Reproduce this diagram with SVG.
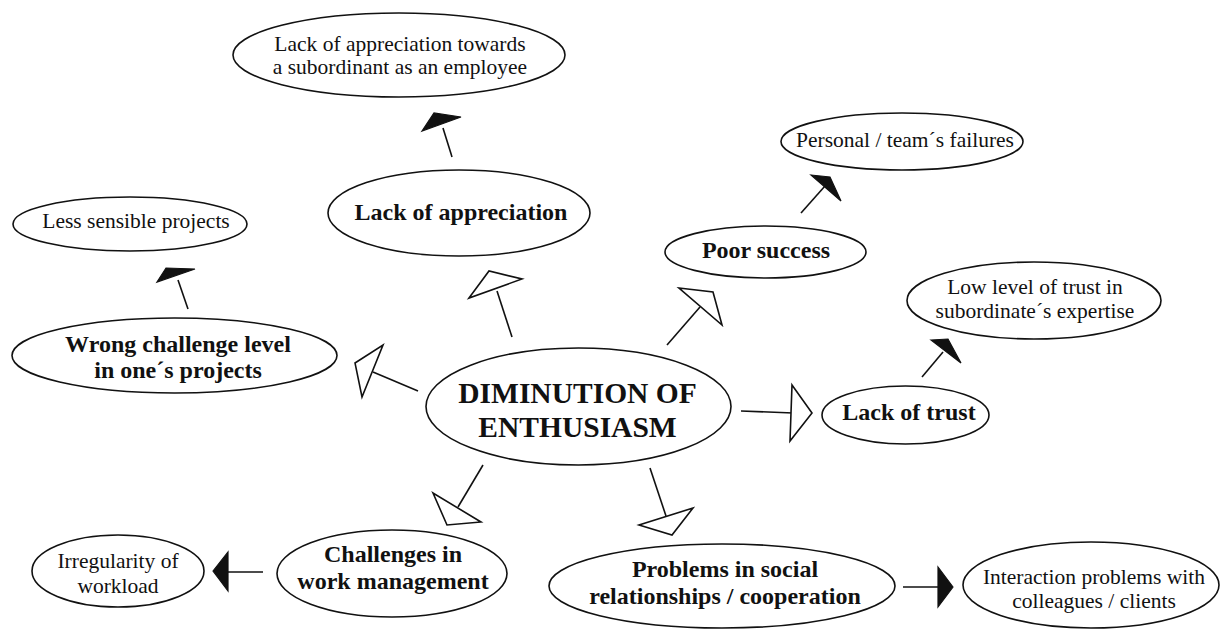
<svg xmlns="http://www.w3.org/2000/svg" width="1220" height="629" viewBox="0 0 1220 629">
<style>
.n ellipse{fill:#fff;stroke:#111;stroke-width:1.6}
text{font-family:"Liberation Serif","Times New Roman",Tinos,"DejaVu Serif",serif;fill:#111;text-anchor:middle}
.r{font-size:21.5px}
.b{font-size:24px;font-weight:bold}
.c{font-size:29.5px;font-weight:bold}
.e line{stroke:#111;stroke-width:1.6}
.e .o{fill:#fff;stroke:#111;stroke-width:1.6;stroke-linejoin:miter}
.e .f{fill:#111;stroke:#111;stroke-width:1.2;stroke-linejoin:miter}
</style>
<rect width="1220" height="629" fill="#fff"/>
<g id="connectors" class="e">
<line x1="512" y1="337" x2="497" y2="291"/>
<polygon class="o" points="469,298 489,271 522,279"/>
<line x1="418" y1="391" x2="373" y2="372"/>
<polygon class="o" points="355,363 383,345 362,397"/>
<line x1="483" y1="465" x2="458" y2="507"/>
<polygon class="o" points="433,493 447,525 481,522"/>
<line x1="650" y1="468" x2="666" y2="516"/>
<polygon class="o" points="639,525 672,535 693,508"/>
<line x1="667" y1="345" x2="700" y2="307"/>
<polygon class="o" points="679,288 713,292 722,325"/>
<line x1="741" y1="411" x2="793" y2="413"/>
<polygon class="o" points="792,385 812,413 790,441"/>
<line x1="452" y1="157" x2="443" y2="128"/>
<polygon class="f" points="422,131 434,113 461,117"/>
<line x1="188" y1="309" x2="178" y2="280"/>
<polygon class="f" points="157,282 166,268 195,269"/>
<line x1="801" y1="213" x2="825" y2="186"/>
<polygon class="f" points="811,175 830,177 841,201"/>
<line x1="922" y1="377" x2="943" y2="352"/>
<polygon class="f" points="931,340 948,339 961,363"/>
<line x1="263" y1="572" x2="228" y2="572"/>
<polygon class="f" points="213,571 228,552 228,591"/>
<line x1="903" y1="587" x2="940" y2="587"/>
<polygon class="f" points="953,587 938,567 938,607"/>
</g>
<g id="center" class="n">
<ellipse cx="578.5" cy="406.5" rx="152.5" ry="58.5"/>
<text class="c" x="577.5" y="403" font-family="Liberation Serif, serif">DIMINUTION OF</text>
<text class="c" x="577.5" y="437" font-family="Liberation Serif, serif">ENTHUSIASM</text>
</g>
<g id="lack-appreciation" class="n">
<ellipse cx="459" cy="213" rx="131" ry="43"/>
<text class="b" x="461" y="220">Lack of appreciation</text>
</g>
<g id="appreciation-employee" class="n">
<ellipse cx="399" cy="55" rx="166" ry="42"/>
<text class="r" x="400" y="51">Lack of appreciation towards</text>
<text class="r" x="400" y="74">a subordinant as an employee</text>
</g>
<g id="wrong-challenge" class="n">
<ellipse cx="174.5" cy="355.5" rx="162.5" ry="37.5"/>
<text class="b" x="178" y="352">Wrong challenge level</text>
<text class="b" x="178" y="378">in one´s projects</text>
</g>
<g id="less-sensible" class="n">
<ellipse cx="130" cy="224" rx="117" ry="27"/>
<text class="r" x="136" y="228">Less sensible projects</text>
</g>
<g id="poor-success" class="n">
<ellipse cx="765.5" cy="252" rx="100.5" ry="26"/>
<text class="b" x="766" y="258">Poor success</text>
</g>
<g id="personal-failures" class="n">
<ellipse cx="902" cy="141.5" rx="121" ry="28.5"/>
<text class="r" x="905" y="147">Personal / team´s failures</text>
</g>
<g id="lack-trust" class="n">
<ellipse cx="905.5" cy="415" rx="83.5" ry="29"/>
<text class="b" x="909" y="420">Lack of trust</text>
</g>
<g id="low-trust" class="n">
<ellipse cx="1034" cy="300.5" rx="127" ry="38.5"/>
<text class="r" x="1035" y="294">Low level of trust in</text>
<text class="r" x="1035" y="318">subordinate´s expertise</text>
</g>
<g id="challenges" class="n">
<ellipse cx="392" cy="573.5" rx="115" ry="43.5"/>
<text class="b" x="393" y="562">Challenges in</text>
<text class="b" x="393" y="589">work management</text>
</g>
<g id="irregularity" class="n">
<ellipse cx="118" cy="571" rx="86" ry="36"/>
<text class="r" x="118" y="568">Irregularity of</text>
<text class="r" x="118" y="593">workload</text>
</g>
<g id="problems" class="n">
<ellipse cx="722" cy="586" rx="173" ry="42"/>
<text class="b" x="725" y="577">Problems in social</text>
<text class="b" x="725" y="604">relationships / cooperation</text>
</g>
<g id="interaction" class="n">
<ellipse cx="1091" cy="585" rx="128" ry="43"/>
<text class="r" x="1094" y="584">Interaction problems with</text>
<text class="r" x="1094" y="608">colleagues / clients</text>
</g>
</svg>
